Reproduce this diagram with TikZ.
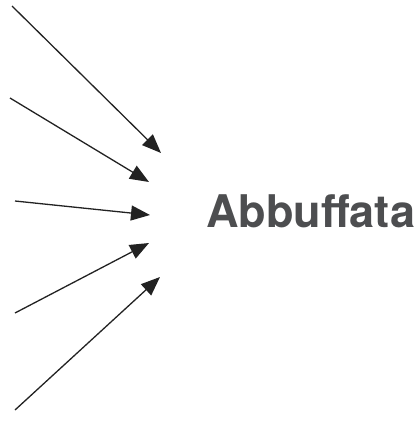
\documentclass[tikz,border=0pt]{standalone}
\usepackage{fontspec}
\setmainfont{TeX Gyre Heros}
\usetikzlibrary{arrows.meta}
\definecolor{txtgray}{HTML}{4D4E50}
\definecolor{linegray}{HTML}{222222}
\tikzset{
  feed/.style={draw=linegray, line width=1.3pt, -{Triangle[length=19pt,width=15pt]}},
  lbl/.style={font=\bfseries\fontsize{45}{54}\selectfont, text=txtgray, inner sep=0pt, anchor=base west}
}
\begin{document}
\begin{tikzpicture}[x=1pt,y=-1pt]
\useasboundingbox (0,0) rectangle (420,421);
\coordinate (s1) at (12,6);
\coordinate (s2) at (10,98);
\coordinate (s3) at (15,201);
\coordinate (s4) at (15,313);
\coordinate (s5) at (15,410);
\coordinate (t1) at (161,153);
\coordinate (t2) at (149,182);
\coordinate (t3) at (150,215);
\coordinate (t4) at (149,243);
\coordinate (t5) at (160,277);
\draw[feed] (s1) -- (t1);
\draw[feed] (s2) -- (t2);
\draw[feed] (s3) -- (t3);
\draw[feed] (s4) -- (t4);
\draw[feed] (s5) -- (t5);
\node[lbl] (label) at (206,227) {Abbuffata};
\end{tikzpicture}
\end{document}
